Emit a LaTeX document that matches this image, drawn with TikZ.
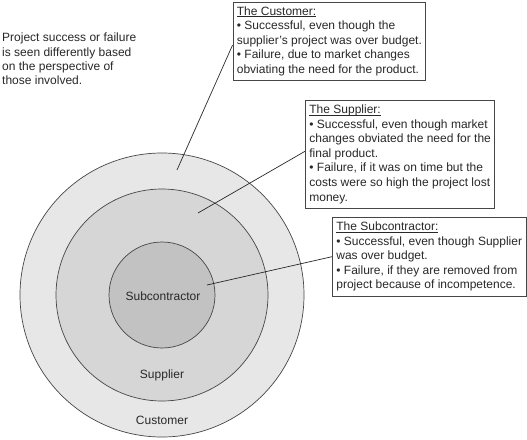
\documentclass[tikz,border=0pt]{standalone}
\usepackage{fontspec}
\setmainfont{Liberation Sans}
\newcommand{\hdrul}[1]{\setbox0\hbox{#1}\leavevmode\rlap{\rule[-2pt]{\wd0}{0.7pt}}\box0}
\definecolor{ringA}{RGB}{231,231,231}
\definecolor{ringB}{RGB}{214,214,214}
\definecolor{ringC}{RGB}{194,194,194}
\definecolor{ink}{RGB}{40,40,40}
\definecolor{edge}{RGB}{70,70,70}
\begin{document}
\begin{tikzpicture}[x=1pt,y=-1pt,
  ring/.style={circle, draw=edge, line width=0.7pt, inner sep=0pt, outer sep=0pt},
  ringlabel/.style={text=ink, font=\fontsize{12}{14}\selectfont, inner sep=0pt},
  introtext/.style={text=ink, align=left, anchor=north west, inner sep=0pt, font=\fontsize{12}{14.2}\selectfont},
  infobox/.style={draw=edge, line width=0.8pt, fill=white, text=ink, align=left, inner xsep=4pt, inner ysep=4.5pt, anchor=north west, font=\fontsize{12}{14.6}\selectfont},
  leader/.style={draw=ink, line width=0.7pt}]
\useasboundingbox[fill=white] (0,0) rectangle (527,439);

\node[ring, fill=ringA, minimum size=284pt] (outer) at (162,295) {};
\node[ring, fill=ringB, minimum size=212pt] (middle) at (162,295) {};
\node[ring, fill=ringC, minimum size=106pt] (inner) at (162,295) {};

\node[ringlabel] (lsub) at (163,296) {Subcontractor};
\node[ringlabel] (lsup) at (162,375) {Supplier};
\node[ringlabel] (lcus) at (162,420) {Customer};

\node[introtext] (intro) at (2,33) {Project success or failure\\is seen differently based\\on the perspective of\\those involved.};

\coordinate (pcus) at (177,170);
\coordinate (psup) at (198,213);
\coordinate (psub) at (207,285);

\node[infobox] (bcus) at (232.5,1.5) {\hdrul{The Customer:}\\• Successful, even though the\\supplier's project was over budget.\\• Failure, due to market changes\\obviating the need for the product.};
\node[infobox] (bsup) at (305,100) {\hdrul{The Supplier:}\\• Successful, even though market\\changes obviated the need for the\\final product.\\• Failure, if it was on time but the\\costs were so high the project lost\\money.};
\node[infobox] (bsub) at (332,217) {\hdrul{The Subcontractor:}\\• Successful, even though Supplier\\was over budget.\\• Failure, if they are removed from\\project because of incompetence.};

\draw[leader] (pcus) -- ([yshift=-4pt]bcus.west);
\draw[leader] (psup) -- ([yshift=3pt]bsup.west);
\draw[leader] (psub) -- (bsub.west);
\end{tikzpicture}
\end{document}
